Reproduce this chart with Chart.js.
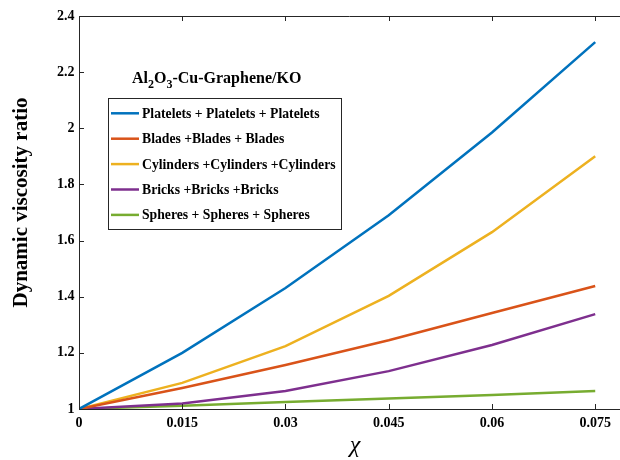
<!DOCTYPE html>
<html>
<head>
<meta charset="utf-8">
<script src="https://cdn.jsdelivr.net/npm/chart.js@4.4.1/dist/chart.umd.min.js"></script>
<style>
  html, body { margin: 0; padding: 0; background: #fff; overflow: hidden; }
  canvas { display: block; }
</style>
</head>
<body>
<canvas id="viscosityChart" width="620" height="460"></canvas>
<script>
// Datos
const xValues = [0, 0.015, 0.03, 0.045, 0.06, 0.075]
const xTicks = [0, 0.015, 0.03, 0.045, 0.06, 0.075]
const yTicks = [1, 1.2, 1.4, 1.6, 1.8, 2, 2.2, 2.4]

const seriesNames = [
    'Platelets + Platelets + Platelets',
    'Blades +Blades + Blades',
    'Cylinders +Cylinders +Cylinders',
    'Bricks +Bricks +Bricks',
    'Spheres + Spheres + Spheres'
]
const platelets = [1, 1.2, 1.431, 1.69, 1.985, 2.307]
const blades = [1, 1.075, 1.157, 1.245, 1.342, 1.438]
const cylinders = [1, 1.093, 1.224, 1.403, 1.63, 1.9]
const bricks = [1, 1.02, 1.064, 1.135, 1.228, 1.338]
const spheres = [1, 1.012, 1.025, 1.037, 1.05, 1.064]

const seriesValues = [platelets, blades, cylinders, bricks, spheres]
const seriesColors = ['#0072BD', '#D95319', '#EDB120', '#7E2F8E', '#77AC30']

const SERIF = '"Liberation Serif", "Times New Roman", serif'
const AXIS_COLOR = '#262626'

// Marcas hacia dentro, borde superior, leyenda y títulos (estilo MATLAB)
const matlabStyle = {
    id: 'matlabStyle',
    afterDraw(chart) {
        const ctx = chart.ctx
        const area = chart.chartArea
        const xs = chart.scales.x
        const ys = chart.scales.y
        const tick = 5

        ctx.save()
        ctx.strokeStyle = AXIS_COLOR
        ctx.lineWidth = 1

        // borde superior
        ctx.beginPath()
        ctx.moveTo(area.left, area.top + 0.5)
        ctx.lineTo(area.right, area.top + 0.5)
        ctx.stroke()

        // marcas del eje x (abajo y arriba)
        xTicks.forEach(v => {
            const px = Math.round(xs.getPixelForValue(v)) + 0.5
            ctx.beginPath()
            ctx.moveTo(px, area.bottom)
            ctx.lineTo(px, area.bottom - tick)
            ctx.moveTo(px, area.top)
            ctx.lineTo(px, area.top + tick)
            ctx.stroke()
        })
        // marcas del eje y
        yTicks.forEach(v => {
            const py = Math.round(ys.getPixelForValue(v)) + 0.5
            ctx.beginPath()
            ctx.moveTo(area.left, py)
            ctx.lineTo(area.left + tick, py)
            ctx.stroke()
        })

        // título de la leyenda: Al2O3-Cu-Graphene/KO
        const titleParts = [['Al', false], ['2', true], ['O', false], ['3', true], ['-Cu-Graphene/KO', false]]
        let tx = 132
        const ty = 83
        ctx.fillStyle = '#000'
        ctx.textBaseline = 'alphabetic'
        ctx.textAlign = 'left'
        titleParts.forEach(([text, sub]) => {
            ctx.font = sub ? 'bold 12px ' + SERIF : 'bold 16px ' + SERIF
            ctx.fillText(text, tx, sub ? ty + 5 : ty)
            tx += ctx.measureText(text).width
        })

        // caja de la leyenda
        const box = { left: 108, top: 98, right: 341, bottom: 229 }
        ctx.fillStyle = '#fff'
        ctx.fillRect(box.left, box.top, box.right - box.left, box.bottom - box.top)
        ctx.strokeStyle = AXIS_COLOR
        ctx.strokeRect(box.left + 0.5, box.top + 0.5, box.right - box.left, box.bottom - box.top)

        ctx.font = 'bold 13.7px ' + SERIF
        ctx.textBaseline = 'middle'
        chart.data.datasets.forEach((ds, i) => {
            const rowY = 113.3 + i * 25.4
            ctx.strokeStyle = ds.borderColor
            ctx.lineWidth = 2.5
            ctx.beginPath()
            ctx.moveTo(111, rowY)
            ctx.lineTo(139, rowY)
            ctx.stroke()
            ctx.fillStyle = '#000'
            ctx.fillText(ds.label, 142, rowY + 1)
        })

        // títulos de los ejes
        ctx.fillStyle = '#000'
        ctx.font = 'bold 21px ' + SERIF
        ctx.textAlign = 'center'
        ctx.textBaseline = 'alphabetic'
        ctx.translate(27, 202.5)
        ctx.rotate(-Math.PI / 2)
        ctx.fillText('Dynamic viscosity ratio', 0, 0)
        ctx.setTransform(1, 0, 0, 1, 0, 0)

        ctx.font = 'italic 24px ' + SERIF
        ctx.fillText('χ', 355, 452)
        ctx.restore()
    }
}

// Crear gráfico
const createViscosityChart = () => {
    const ctx = document.getElementById('viscosityChart').getContext('2d')
    new Chart(ctx, {
        type: 'line',
        data: {
            datasets: seriesValues.map((values, i) => ({
                label: seriesNames[i],
                data: values.map((y, j) => ({ x: xValues[j], y })),
                borderColor: seriesColors[i],
                backgroundColor: seriesColors[i],
                borderWidth: 2.5,
                pointRadius: 0,
                tension: 0,
                fill: false
            }))
        },
        options: {
            responsive: false,
            animation: false,
            devicePixelRatio: 1,
            layout: { padding: { top: 16, left: 0, right: 0, bottom: 0 } },
            plugins: {
                legend: { display: false },
                tooltip: { enabled: false }
            },
            scales: {
                x: {
                    type: 'linear',
                    min: 0,
                    max: 0.0786, // el marco está cortado a la derecha
                    afterBuildTicks: scale => { scale.ticks = xTicks.map(v => ({ value: v })) },
                    afterFit: scale => { scale.height = 51 },
                    grid: { display: false, drawTicks: false },
                    border: { display: true, color: AXIS_COLOR, width: 1 },
                    ticks: {
                        color: '#000',
                        padding: 6,
                        maxRotation: 0,
                        font: { family: SERIF, size: 14, weight: 'bold' },
                        callback: v => String(v)
                    }
                },
                y: {
                    min: 1,
                    max: 2.4,
                    afterBuildTicks: scale => { scale.ticks = yTicks.map(v => ({ value: v })) },
                    afterFit: scale => { scale.width = 79 },
                    grid: { display: false, drawTicks: false },
                    border: { display: true, color: AXIS_COLOR, width: 1 },
                    ticks: {
                        color: '#000',
                        padding: 4.5,
                        font: { family: SERIF, size: 14, weight: 'bold' },
                        callback: v => String(Math.round(v * 10) / 10)
                    }
                }
            }
        },
        plugins: [matlabStyle]
    })
}

createViscosityChart()
</script>
</body>
</html>
